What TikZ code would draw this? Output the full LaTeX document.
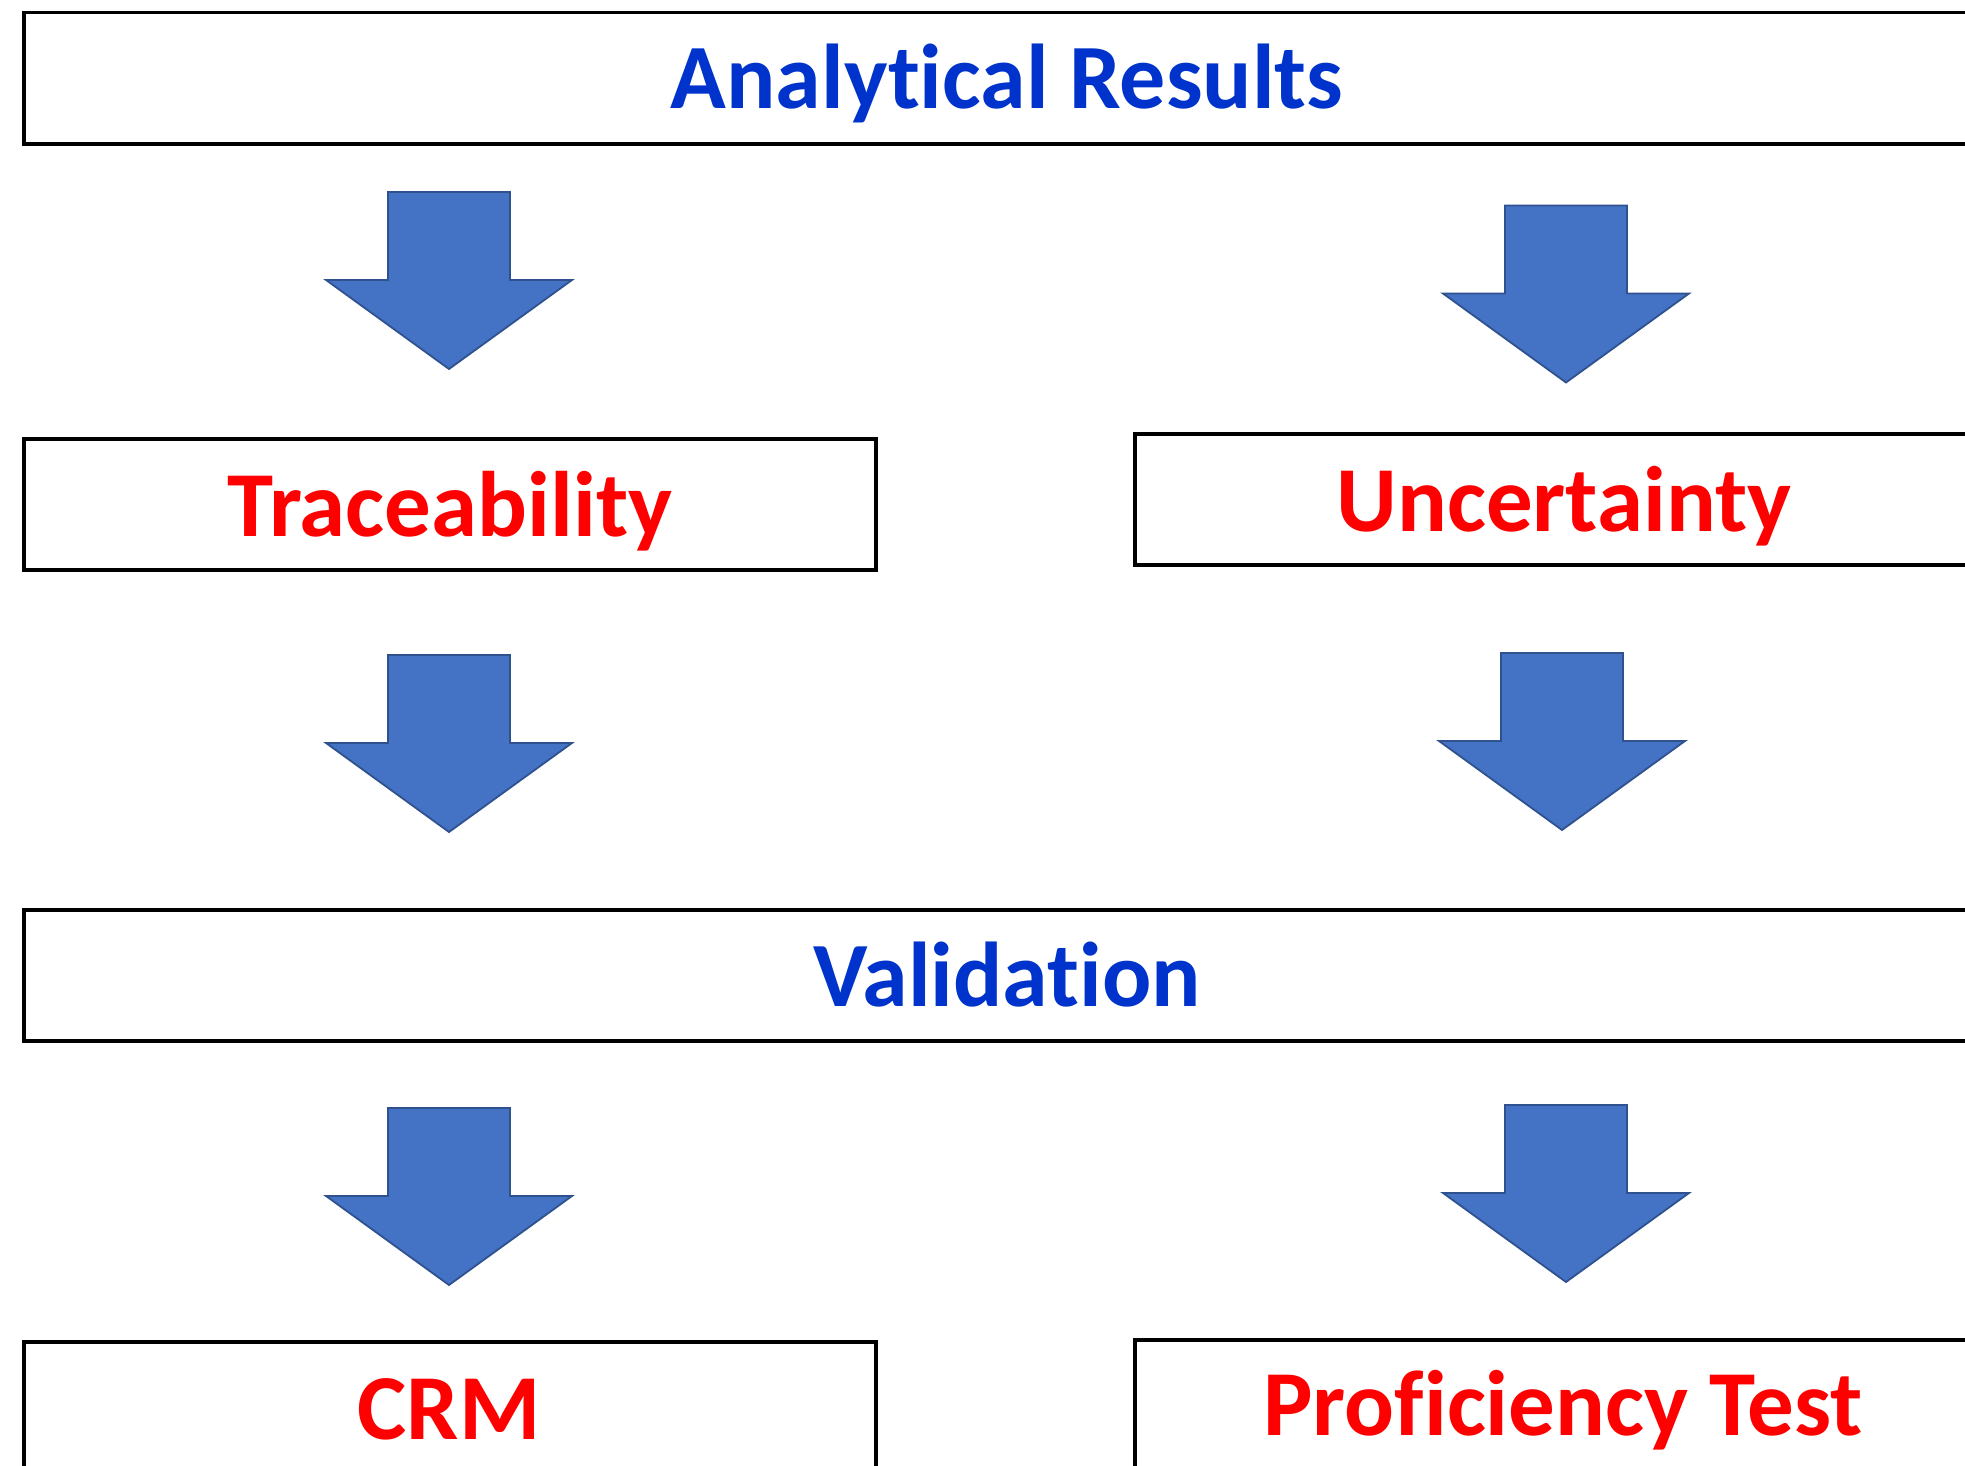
\documentclass[tikz,border=0pt]{standalone}
\usepackage{fontspec}
\setmainfont{Carlito}[Ligatures={NoCommon}]
\newcommand{\nolig}{\kern0pt\relax}
\definecolor{tblue}{RGB}{0,51,204}
\definecolor{tred}{RGB}{255,0,0}
\definecolor{afill}{RGB}{68,114,196}
\definecolor{aedge}{RGB}{47,82,143}
\tikzset{
  boxline/.style={draw=black,line width=3.6pt},
  bluetxt/.style={text=tblue,font=\fontsize{92}{110}\selectfont\bfseries,anchor=base,inner sep=0pt},
  redtxt/.style={text=tred,font=\fontsize{93}{110}\selectfont\bfseries,anchor=base,inner sep=0pt},
  downarrow/.pic={
    \path[fill=afill,draw=aedge,line width=1.8pt,line join=miter]
      (-61,0) -- (61,0) -- (61,88) -- (123,88) -- (0,177) -- (-123,88) -- (-61,88) -- cycle;
  }
}
\begin{document}
\begin{tikzpicture}[x=1pt,y=-1pt]
\useasboundingbox (0,0) rectangle (1965,1466);
\clip (0,0) rectangle (1965,1466);
% boxes
\draw[boxline] (24,12.5) rectangle (2000,144);
\draw[boxline] (24,439) rectangle (876,570);
\draw[boxline] (1135,434) rectangle (2000,565);
\draw[boxline] (24,910) rectangle (2000,1041);
\draw[boxline] (24,1342) rectangle (876,1520);
\draw[boxline] (1135,1340) rectangle (2000,1520);
% texts
\node[bluetxt] (res) at (1007,109) {Analyt\nolig ical Results};
\node[redtxt] (trace) at (450,536) {Traceability};
\node[redtxt] (unc) at (1564,531) {Uncertainty};
\node[bluetxt] (val) at (1007,1006) {Validat\nolig ion};
\node[redtxt] (crm) at (449,1439) {CRM};
\node[redtxt] (pt) at (1563,1435) {Prof\nolig icienc\nolig y Test};
% block arrows
\pic at (449,192) {downarrow};
\pic at (1566,205.5) {downarrow};
\pic at (449,655) {downarrow};
\pic at (1562,653) {downarrow};
\pic at (449,1108) {downarrow};
\pic at (1566,1105) {downarrow};
\end{tikzpicture}
\end{document}
